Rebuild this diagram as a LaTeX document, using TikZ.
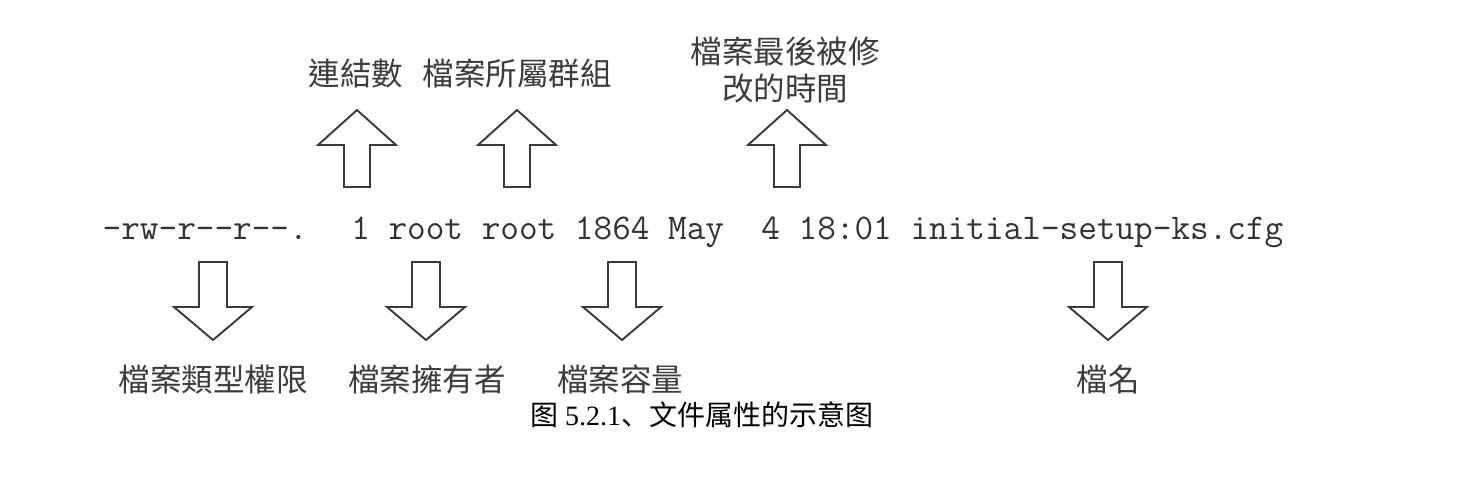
\documentclass[tikz,border=0pt]{standalone}
\usepackage{fontspec}
\setmainfont{Liberation Serif}
\newfontfamily\tcfont{Noto Sans CJK TC}
\newfontfamily\scfont{Noto Sans CJK SC}
\definecolor{arrowgray}{HTML}{3A3A3A}
\definecolor{labelgray}{HTML}{3C3C3C}
\definecolor{linegray}{HTML}{333333}
\begin{document}
\begin{tikzpicture}[x=1pt,y=-1pt,
  arrowline/.style={draw=arrowgray,line width=1.9pt,line join=miter,fill=white},
  uparrow/.pic={\path[arrowline] (0,0) -- (39,35) -- (13,35) -- (13,77) -- (-13,77) -- (-13,35) -- (-39,35) -- cycle;},
  downarrow/.pic={\path[arrowline] (0,0) -- (39,-33) -- (14,-33) -- (14,-78) -- (-14,-78) -- (-14,-33) -- (-39,-33) -- cycle;},
  lbl/.style={inner sep=0pt,anchor=base,text=labelgray,font=\tcfont\fontsize{31.5}{37}\selectfont},
  lsline/.style={inner sep=0pt,anchor=base west,text=linegray,font=\ttfamily\fontsize{36.2}{40}\selectfont},
  figcaption/.style={inner sep=0pt,anchor=base,text=black,font=\fontsize{28}{32}\selectfont}
]
\useasboundingbox[fill=white] (0,0) rectangle (1476,480);

% the ls line
\node[lsline] (line) at (102.5,239.5) {-rw-r--r--.~ 1 root root 1864 May~ 4 18:01 initial-setup-ks.cfg};

% up arrows and their labels
\pic (uplink) at (357,110) {uparrow};
\pic (upgroup) at (517,110) {uparrow};
\pic (uptime) at (787,110) {uparrow};
\node[lbl] (links) at (356,85) {連結數};
\node[lbl] (group) at (517,85) {檔案所屬群組};
\node[lbl,anchor=center,align=center] (time) at (785,70.5) {檔案最後被修\\改的時間};

% down arrows and their labels
\pic (dnperm) at (213,340) {downarrow};
\pic (dnowner) at (426,340) {downarrow};
\pic (dnsize) at (622,340) {downarrow};
\pic (dnname) at (1108,340) {downarrow};
\node[lbl] (perm) at (213,391) {檔案類型權限};
\node[lbl] (owner) at (427,391) {檔案擁有者};
\node[lbl] (size) at (620,391) {檔案容量};
\node[lbl] (fname) at (1108,391) {檔名};

% caption
\node[figcaption] (caption) at (701.5,425) {{\scfont 图} 5.2.1{\scfont 、文件属性的示意图}};
\end{tikzpicture}
\end{document}
